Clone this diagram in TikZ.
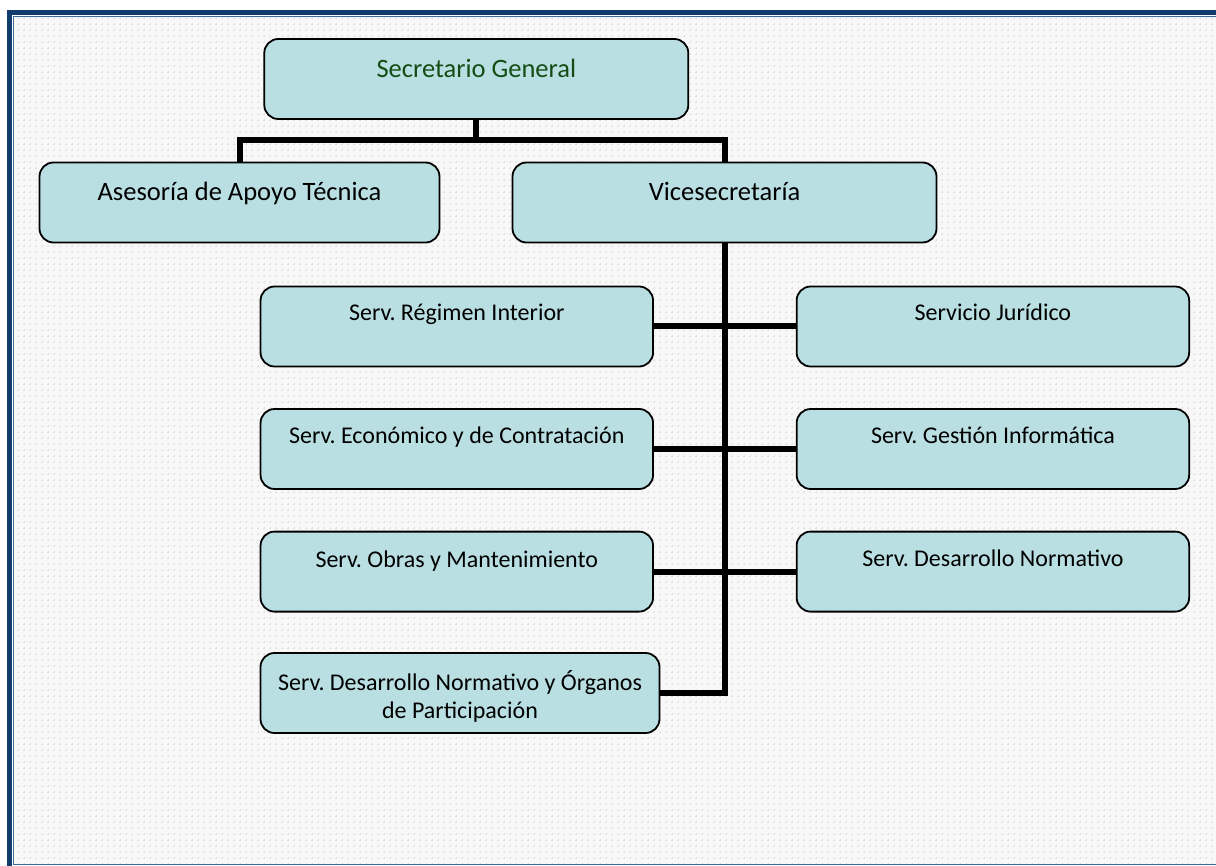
\documentclass[tikz,border=0pt]{standalone}
\usepackage{fontspec}
\setmainfont{Carlito}
\frenchspacing
\pgfdeclarelayer{bg}
\pgfsetlayers{bg,main}
\definecolor{boxfill}{HTML}{B9DFE3}
\definecolor{frameblue}{HTML}{123B6D}
\definecolor{framethin}{HTML}{3E679C}
\definecolor{sggreen}{HTML}{134D14}
\definecolor{bgfill}{HTML}{F8F8F8}
\definecolor{bgmark}{HTML}{E2E2E2}
\begin{document}
\begin{tikzpicture}[x=1pt,y=-1pt,
  orgbox/.style={draw=black, line width=1.8pt, fill=boxfill, rounded corners=14pt,
    minimum width=#1, minimum height=80pt, inner sep=0pt},
  lbig/.style={font=\fontsize{26.5}{32}\selectfont, anchor=base, inner sep=0pt},
  lsmall/.style={font=\fontsize{24}{28.5}\selectfont, anchor=base, inner sep=0pt, align=center},
  conn/.style={draw=black, line width=6pt, line join=miter}]
\useasboundingbox (0,0) rectangle (1216,866);

% boxes
\node[orgbox=424pt, minimum height=80pt] (sg) at (476.3,79) {};
\node[lbig, text=sggreen] (sgt) at (476.3,77.3) {Secretario General};
\node[orgbox=400pt] (ases) at (239.5,202.5) {};
\node[lbig] (asest) at (239.5,200.3) {Asesoría de Apoyo Técnica};
\node[orgbox=424pt] (vice) at (724.5,202.5) {};
\node[lbig] (vicet) at (724.5,200.3) {Vicesecretaría};

\node[orgbox=392.5pt] (reg) at (456.8,326.5) {};
\node[lsmall] (regt) at (456.8,320.5) {Serv. Régimen Interior};
\node[orgbox=392.5pt] (eco) at (456.8,449) {};
\node[lsmall] (ecot) at (456.8,444) {Serv. Económico y de Contratación};
\node[orgbox=392.5pt] (obr) at (456.8,571.6) {};
\node[lsmall] (obrt) at (456.8,567) {Serv. Obras y Mantenimiento};
\node[orgbox=399pt] (dno) at (460,693) {};
\node[lsmall] (dnot) at (460,718.5) {Serv. Desarrollo Normativo y Órganos\\de Participación};

\node[orgbox=392.5pt] (jur) at (992.9,326.5) {};
\node[lsmall] (jurt) at (992.9,320.5) {Servicio Jurídico};
\node[orgbox=392.5pt] (ges) at (992.9,449) {};
\node[lsmall] (gest) at (992.9,444) {Serv. Gestión Informática};
\node[orgbox=392.5pt] (des) at (992.9,571.6) {};
\node[lsmall] (dest) at (992.9,566.7) {Serv. Desarrollo Normativo};

\coordinate (bus) at (476.3,140.5);

\begin{pgfonlayer}{bg}
  \begin{scope}
    \clip (13.5,16.8) rectangle (1216,864.8);
    \fill[bgfill] (13.5,16.8) rectangle (1216,864.8);
    \draw[bgmark, line width=0.8pt, dash pattern=on 2pt off 4pt, dash phase=1pt, step=6pt]
      (12,12) grid (1218,870);
  \end{scope}
  \draw[conn] (sg.south) -- (bus);
  \draw[conn] (ases.north) |- (bus) -| (vice.north);
  \draw[conn] (vice.south) |- (dno.east);
  \draw[conn] (reg.east) -- (jur.west);
  \draw[conn] (eco.east) -- (ges.west);
  \draw[conn] (obr.east) -- (des.west);
\end{pgfonlayer}

% frame
\draw[frameblue, line width=4.7pt] (9.2,12.3) rectangle (1240,890);
\draw[framethin, line width=1.3pt] (13.5,16.8) rectangle (1230,864.8);
\end{tikzpicture}
\end{document}
